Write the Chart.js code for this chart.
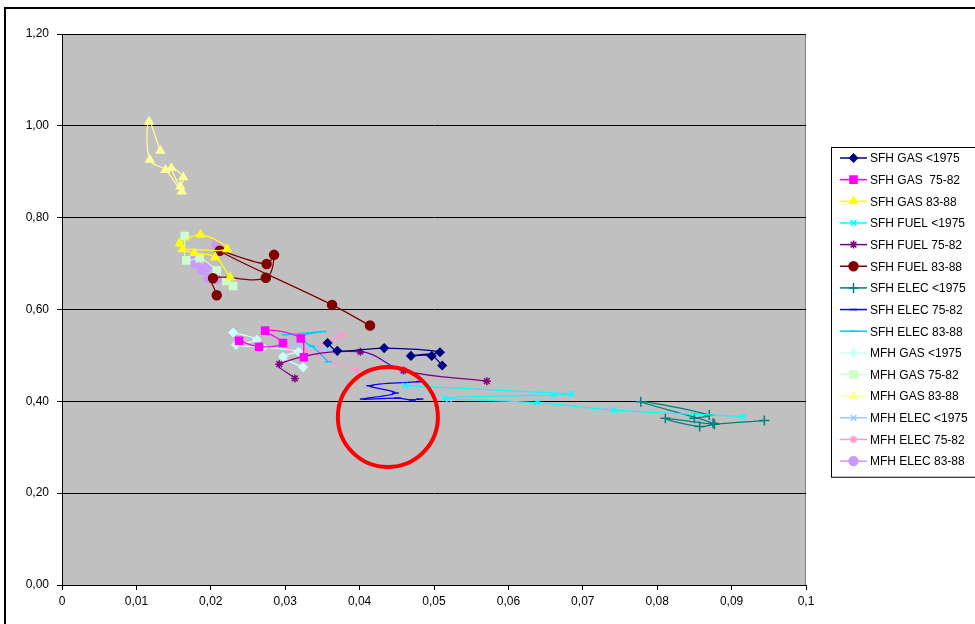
<!DOCTYPE html>
<html>
<head>
<meta charset="utf-8">
<script src="https://cdn.jsdelivr.net/npm/chart.js@4.4.1/dist/chart.umd.min.js"></script>
<style>
  html, body { margin: 0; padding: 0; background: #fff; }
  #wrap { width: 975px; height: 624px; }
</style>
</head>
<body>
<div id="wrap"><canvas id="chart" width="975" height="624"></canvas></div>
<script>
// series labels (legend order)
const seriesNames = [
    'SFH GAS <1975', 'SFH GAS  75-82', 'SFH GAS 83-88',
    'SFH FUEL <1975', 'SFH FUEL 75-82', 'SFH FUEL 83-88',
    'SFH ELEC <1975', 'SFH ELEC 75-82', 'SFH ELEC 83-88',
    'MFH GAS <1975', 'MFH GAS 75-82', 'MFH GAS 83-88',
    'MFH ELEC <1975', 'MFH ELEC 75-82', 'MFH ELEC 83-88'
];

// [x, y] points
const sfhGasPre75 = [[0.0357,0.527],[0.0370,0.510],[0.0433,0.516],[0.0508,0.507],[0.0469,0.499],[0.0497,0.499],[0.0511,0.478]];
const sfhGas7582 = [[0.0238,0.532],[0.0265,0.519],[0.0297,0.527],[0.0273,0.554],[0.0321,0.537],[0.0325,0.496]];
const sfhGas8388 = [[0.0158,0.744],[0.0186,0.763],[0.0222,0.731],[0.0162,0.731],[0.0178,0.723],[0.0206,0.714],[0.0226,0.670]];
const sfhFuelPre75 = [[0.0461,0.434],[0.0685,0.416],[0.0661,0.414],[0.0515,0.407],[0.0639,0.397],[0.0742,0.381],[0.0916,0.367]];
const sfhFuel7582 = [[0.0313,0.450],[0.0292,0.481],[0.0401,0.508],[0.0459,0.467],[0.0571,0.444]];
const sfhFuel8388 = [[0.0208,0.631],[0.0203,0.668],[0.0274,0.669],[0.0285,0.719],[0.0275,0.699],[0.0212,0.728],[0.0363,0.610],[0.0414,0.565]];
const sfhElecPre75 = [[0.0850,0.363],[0.0870,0.370],[0.0778,0.399],[0.0875,0.352],[0.0811,0.363],[0.0857,0.345],[0.0877,0.350],[0.0944,0.358]];
const sfhElec7582 = [[0.0481,0.443],[0.0414,0.434],[0.0448,0.418],[0.0405,0.405],[0.0451,0.407],[0.0471,0.403],[0.0481,0.405]];
const sfhElec8388 = [[0.0300,0.545],[0.0351,0.552],[0.0320,0.542],[0.0324,0.530],[0.0336,0.520],[0.0358,0.486]];
const mfhGasPre75 = [[0.0230,0.550],[0.0262,0.534],[0.0234,0.523],[0.0270,0.518],[0.0318,0.508],[0.0297,0.497],[0.0324,0.474]];
const mfhGas7582 = [[0.0165,0.760],[0.0167,0.707],[0.0185,0.712],[0.0208,0.685],[0.0221,0.662],[0.0230,0.651]];
const mfhGas8388 = [[0.0132,0.946],[0.0117,1.009],[0.0118,0.926],[0.0139,0.904],[0.0161,0.857],[0.0147,0.908],[0.0163,0.888],[0.0159,0.868]];
const mfhElecPre75 = [[0.0310,0.522],[0.0355,0.512],[0.0405,0.505],[0.0455,0.470],[0.0465,0.432],[0.0520,0.405]];
const mfhElec7582 = [[0.0305,0.515],[0.0327,0.508],[0.0376,0.545],[0.0345,0.505],[0.0396,0.467]];
const mfhElec8388 = [[0.0208,0.741],[0.0177,0.708],[0.0179,0.701],[0.0188,0.686],[0.0195,0.693],[0.0197,0.668],[0.0208,0.667]];

const seriesData = [
    sfhGasPre75, sfhGas7582, sfhGas8388,
    sfhFuelPre75, sfhFuel7582, sfhFuel8388,
    sfhElecPre75, sfhElec7582, sfhElec8388,
    mfhGasPre75, mfhGas7582, mfhGas8388,
    mfhElecPre75, mfhElec7582, mfhElec8388
];

const seriesColors = [
    '#000080', '#FF00FF', '#FFFF00',
    '#00FFFF', '#800080', '#800000',
    '#008080', '#0000FF', '#00CCFF',
    '#CCFFFF', '#CCFFCC', '#FFFF99',
    '#99CCFF', '#FF99CC', '#CC99FF'
];

const seriesMarkers = [
    'rectRot', 'rect', 'triangle',
    'crossRot', 'star', 'circle',
    'cross', 'line', 'line',
    'rectRot', 'rect', 'triangle',
    'crossRot', 'star', 'circle'
];

const markerSizes = [4, 5, 4.5, 4, 4, 4.5, 5, 3.5, 3.5, 4, 5, 4.5, 4, 4, 4.5];

const yTicks = [0, 0.2, 0.4, 0.6, 0.8, 1.0, 1.2];

// highlighted region (red ring), in data units
const ringCenter = [0.0438, 0.366];

const datasets = seriesNames.map((name, i) => ({
    label: name,
    data: seriesData[i].map(p => ({ x: p[0], y: p[1] })),
    showLine: true,
    tension: 0.4,
    borderColor: seriesColors[i],
    backgroundColor: seriesColors[i],
    borderWidth: 1.25,
    pointStyle: seriesMarkers[i],
    pointRadius: markerSizes[i],
    pointBorderWidth: 1.5,
    pointBackgroundColor: seriesColors[i],
    pointBorderColor: seriesColors[i]
}));

function fmtNum(v, digits) {
    return v.toFixed(digits).replace('.', ',');
}

// gray plot area, outer frame
const backdrop = {
    id: 'backdrop',
    beforeDraw(chart) {
        const { ctx, chartArea: a } = chart;
        ctx.save();
        ctx.strokeStyle = '#000';
        ctx.lineWidth = 2;
        ctx.beginPath();
        ctx.moveTo(5, 624);
        ctx.lineTo(5, 8);
        ctx.lineTo(975, 8);
        ctx.stroke();
        ctx.fillStyle = '#C0C0C0';
        ctx.fillRect(a.left, a.top, a.right - a.left, a.bottom - a.top);
        ctx.strokeStyle = '#808080';
        ctx.lineWidth = 1;
        ctx.beginPath();
        ctx.moveTo(a.left, a.top + 0.5);
        ctx.lineTo(a.right - 0.5, a.top + 0.5);
        ctx.lineTo(a.right - 0.5, a.bottom);
        ctx.stroke();
        ctx.restore();
    }
};

const ring = {
    id: 'ring',
    afterDatasetsDraw(chart) {
        const { ctx, scales } = chart;
        const cx = scales.x.getPixelForValue(ringCenter[0]);
        const cy = scales.y.getPixelForValue(ringCenter[1]);
        ctx.save();
        ctx.strokeStyle = '#FF0000';
        ctx.lineWidth = 4;
        ctx.beginPath();
        ctx.arc(cx, cy, 50, 0, Math.PI * 2);
        ctx.stroke();
        ctx.restore();
    }
};

// Excel style legend: line + marker + text
const sideLegend = {
    id: 'sideLegend',
    afterDraw(chart) {
        const { ctx } = chart;
        const left = 831, top = 147, rowH = 21.65;
        ctx.save();
        ctx.fillStyle = '#fff';
        ctx.fillRect(left, top, 975 - left, rowH * 15 + 5);
        ctx.strokeStyle = '#000';
        ctx.lineWidth = 1;
        ctx.strokeRect(left + 0.5, top + 0.5, 975, rowH * 15 + 5);
        ctx.font = '12px "Liberation Sans", Arial, sans-serif';
        ctx.textBaseline = 'middle';
        chart.data.datasets.forEach((ds, i) => {
            const y = top + 11 + i * rowH;
            ctx.strokeStyle = ds.borderColor;
            ctx.lineWidth = 1.5;
            ctx.beginPath();
            ctx.moveTo(840, y);
            ctx.lineTo(867, y);
            ctx.stroke();
            ctx.fillStyle = ds.borderColor;
            ctx.lineWidth = 1.5;
            Chart.helpers.drawPoint(ctx, {
                pointStyle: ds.pointStyle,
                radius: ds.pointRadius,
                rotation: 0,
                borderWidth: 1.5
            }, 853.5, y);
            ctx.fillStyle = '#000';
            ctx.fillText(ds.label, 870, y + 1);
        });
        ctx.restore();
    }
};

Chart.defaults.font.family = '"Liberation Sans", Arial, sans-serif';
Chart.defaults.font.size = 12;
Chart.defaults.color = '#000';

new Chart(document.getElementById('chart'), {
    type: 'scatter',
    data: { datasets },
    options: {
        responsive: false,
        animation: false,
        layout: { padding: { top: 34, right: 169, left: 0, bottom: 0 } },
        plugins: {
            legend: { display: false },
            tooltip: { enabled: false }
        },
        scales: {
            x: {
                type: 'linear',
                min: 0,
                max: 0.1,
                afterFit(scale) { scale.height = 39; },
                afterBuildTicks(scale) {
                    scale.ticks = Array.from({ length: 11 }, (_, k) => ({ value: k / 100 }));
                },
                ticks: {
                    padding: 4,
                    maxRotation: 0,
                    autoSkip: false,
                    callback: v => v === 0 ? '0' : String(parseFloat(v.toFixed(2))).replace('.', ',')
                },
                grid: { drawOnChartArea: false, color: '#000', tickLength: 5 },
                border: { color: '#000', width: 1 }
            },
            y: {
                type: 'linear',
                min: 0,
                max: 1.2,
                afterFit(scale) { scale.width = 62; },
                afterBuildTicks(scale) {
                    scale.ticks = yTicks.map(v => ({ value: v }));
                },
                ticks: {
                    padding: 8,
                    callback: v => fmtNum(v, 2)
                },
                grid: { color: '#000', lineWidth: 1, tickLength: 5 },
                border: { color: '#000', width: 1 }
            }
        }
    },
    plugins: [backdrop, ring, sideLegend]
});
</script>
</body>
</html>
